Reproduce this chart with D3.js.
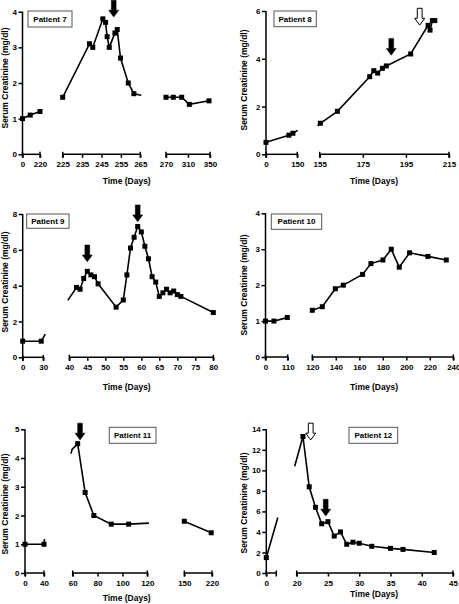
<!DOCTYPE html>
<html><head><meta charset="utf-8">
<script src="https://cdn.jsdelivr.net/npm/d3@7"></script>
<style>
body{margin:0;background:#fff}
svg{display:block}
text{font-family:"Liberation Sans",Arial,Helvetica,sans-serif;font-weight:bold;fill:#000}
</style>
</head><body>
<svg id="c" width="459" height="604"></svg>
<script>
// ---------------- DATA ----------------
const patientNames = ["Patient 7","Patient 8","Patient 9","Patient 10","Patient 11","Patient 12"];
const xTitle = "Time (Days)";
const yTitle = "Serum Creatinine (mg/dl)";

// Patient 7
const p7Days   = [0, 97, 220, 225, 238.8, 240.5, 245.7, 247.1, 247.9, 249, 251.9, 253.1, 254.8, 258.8, 261.7, 270, 283.3, 298.5, 312.4, 348.2];
const p7Values = [1.0, 1.1, 1.2, 1.6, 3.1, 3.0, 3.8, 3.7, 3.3, 3.0, 3.4, 3.5, 2.7, 2.0, 1.7, 1.6, 1.6, 1.6, 1.4, 1.5];
const p7Segments = [[0,220],[225,265],[270,350]];
const p7XTicks = [[0,220],[225,235,245,255,265],[270,310,350]];
const p7YTicks = [0,1,2,3,4];
const p7Arrows = [[251.3, 3.85, "solid"]];

// Patient 8
const p8Days   = [0, 109.7, 129, 152, 155.3, 163.2, 178.2, 180.1, 181.9, 184.1, 185.9, 197.2, 205.3, 206.2, 207.3, 208.4];
const p8Values = [0.5, 0.8, 0.88, 1.0, 1.3, 1.8, 3.25, 3.5, 3.4, 3.6, 3.7, 4.2, 5.4, 5.2, 5.6, 5.6];
const p8Segments = [[0,150],[155,215]];
const p8XTicks = [[0,150],[155,175,195,215]];
const p8YTicks = [0,2,4,6];
const p8Arrows = [[188.2, 4.15, "solid"],[201.4, 5.41, "hollow"]];

// Patient 9
const p9Days   = [0, 27, 36, 39, 42, 43, 44, 45, 46, 47, 48, 53, 55, 56, 57, 58, 59, 60, 61, 62, 63, 64, 65, 66, 67, 68, 69, 70, 71, 80];
const p9Values = [0.9, 0.9, 1.5, 3.0, 3.9, 3.8, 4.4, 4.8, 4.6, 4.5, 4.1, 2.8, 3.2, 4.6, 6.1, 6.7, 7.3, 7.0, 6.2, 5.5, 4.5, 4.2, 3.4, 3.6, 3.8, 3.6, 3.7, 3.5, 3.4, 2.5];
const p9Segments = [[0,30],[40,80]];
const p9XTicks = [[0,30],[40,45,50,55,60,65,70,75,80]];
const p9YTicks = [0,2,4,6,8];
const p9Arrows = [[45, 5.33, "solid"],[59, 7.57, "solid"]];

// Patient 10
const p10Days   = [0, 41.7, 108, 120, 128.5, 139.6, 146.4, 162.8, 169.9, 180.1, 187.2, 194, 202.8, 218.4, 234];
const p10Values = [1.0, 1.0, 1.1, 1.3, 1.4, 1.9, 2.0, 2.3, 2.6, 2.7, 3.0, 2.5, 2.9, 2.8, 2.7];
const p10Segments = [[0,110],[120,240]];
const p10XTicks = [[0,110],[120,140,160,180,200,220,240]];
const p10YTicks = [0,1,2,3,4];
const p10Arrows = [];

// Patient 11
const p11Days   = [0, 40, 59.5, 64, 70, 77, 91, 105, 150, 218];
const p11Values = [1.0, 1.0, 4.3, 4.5, 2.8, 2.0, 1.7, 1.7, 1.8, 1.4];
const p11Segments = [[0,40],[60,120],[150,220]];
const p11XTicks = [[0,40],[60,80,100,120],[150,220]];
const p11YTicks = [0,1,2,3,4,5];
const p11Arrows = [[65.9, 4.63, "solid"]];

// Patient 12
const p12Days   = [0, 5, 19.5, 21, 22, 23, 24, 25, 26, 27, 28, 29, 30, 32, 35, 37, 42];
const p12Values = [1.5, 10, 10, 13.3, 8.4, 6.4, 4.8, 5.0, 3.6, 4.0, 2.8, 3.0, 2.9, 2.6, 2.4, 2.3, 2.0];
const p12Segments = [[0,2],[20,45]];
const p12XTicks = [[0],[20,25,30,35,40,45]];
const p12YTicks = [0,2,4,6,8,10,12,14];
const p12Arrows = [[22.24, 12.96, "hollow"],[24.64, 5.55, "solid"]];

// ---------------- LAYOUT (positions / sizes) ----------------
const layouts = [
  {axisX:22.5, y0:154.3, yTop:11.7, segPx:[[22.5,40],[62.7,140.3],[166,210]], bleed:[0,1,2],
   titleX:126.7, titleY:184.3, yTitleX:5, yTitleY:78, legend:[28,11,44,16]},
  {axisX:266, y0:154.3, yTop:11, segPx:[[266,297.3],[319.7,449]], bleed:[0.4,2],
   titleX:374, titleY:184.3, yTitleX:244, yTitleY:80, legend:[274,11,42.3,15.7]},
  {axisX:22.7, y0:357.3, yTop:214, segPx:[[22.7,43.3],[69.3,213.3]], bleed:[2,1.5],
   titleX:126.7, titleY:390, yTitleX:5, yTitleY:282, legend:[26.7,214,42.3,14.3]},
  {axisX:265.5, y0:357, yTop:213.3, segPx:[[265.5,287.7],[312.3,453.3]], bleed:[0,2],
   titleX:374, titleY:390, yTitleX:244, yTitleY:285, legend:[271.3,214,50.4,15.3]},
  {axisX:25, y0:573, yTop:429.3, segPx:[[25,44],[72.7,147.3],[184.3,212]], bleed:[0.5,1.7,2],
   titleX:126.7, titleY:601, yTitleX:5, yTitleY:504, legend:[109.3,427.3,46.7,16]},
  {axisX:266.3, y0:573, yTop:429.3, segPx:[[266.3,276.3],[296.7,453]], bleed:[1.5,2],
   titleX:374, titleY:597, yTitleX:244, yTitleY:503, legend:[349,427.3,48.7,16]}
];

const panels = [
  {days:p7Days, values:p7Values, segs:p7Segments, xticks:p7XTicks, yticks:p7YTicks, arrows:p7Arrows},
  {days:p8Days, values:p8Values, segs:p8Segments, xticks:p8XTicks, yticks:p8YTicks, arrows:p8Arrows},
  {days:p9Days, values:p9Values, segs:p9Segments, xticks:p9XTicks, yticks:p9YTicks, arrows:p9Arrows},
  {days:p10Days, values:p10Values, segs:p10Segments, xticks:p10XTicks, yticks:p10YTicks, arrows:p10Arrows},
  {days:p11Days, values:p11Values, segs:p11Segments, xticks:p11XTicks, yticks:p11YTicks, arrows:p11Arrows},
  {days:p12Days, values:p12Values, segs:p12Segments, xticks:p12XTicks, yticks:p12YTicks, arrows:p12Arrows}
];

// ---------------- DRAW ----------------
const svg = d3.select("#c");
const AXW = 1.5, LW = 1.6, MS = 5, TICKFS = 8, TITLEFS = 8.5;

function styleAxis(sel){
  sel.select(".domain").remove();
  sel.selectAll(".tick line").attr("stroke","#000").attr("stroke-width",AXW);
  sel.selectAll(".tick text").attr("font-size",TICKFS).attr("fill","#000")
     .attr("font-family",'"Liberation Sans",Arial,sans-serif').attr("font-weight","bold");
}

// clip a polyline (ascending x) to the data interval [lo, hi]
function clipLine(pts, lo, hi){
  const out = [];
  for (let i = 0; i < pts.length - 1; i++){
    const [x0,y0] = pts[i], [x1,y1] = pts[i+1];
    const a = Math.max(x0, lo), b = Math.min(x1, hi);
    if (a > b) continue;
    const f = t => x1 === x0 ? y0 : y0 + (y1 - y0) * (t - x0) / (x1 - x0);
    if (!out.length) out.push([a, f(a)]);
    out.push([b, f(b)]);
  }
  return out;
}

panels.forEach((d, pi) => {
  const L = layouts[pi];
  const g = svg.append("g");
  const yMax = d.yticks[d.yticks.length-1];
  const y = d3.scaleLinear().domain([0, yMax]).range([L.y0, L.yTop]);

  // Y axis
  const ya = g.append("g").attr("transform",`translate(${L.axisX},0)`)
    .call(d3.axisLeft(y).tickValues(d.yticks).tickSize(4).tickSizeOuter(0).tickPadding(1.5).tickFormat(d3.format("d")));
  styleAxis(ya);
  ya.append("line").attr("x1",0).attr("x2",0).attr("y1",y(0)+0.75).attr("y2",y(yMax))
    .attr("stroke","#000").attr("stroke-width",AXW);

  const pts = d.days.map((t,k)=>[t, d.values[k]]);

  d.segs.forEach((dom, si) => {
    const px = L.segPx[si];
    const x = d3.scaleLinear().domain(dom).range(px);
    const xa = g.append("g").attr("transform",`translate(0,${L.y0})`)
      .call(d3.axisBottom(x).tickValues(d.xticks[si]).tickSize(3.5).tickSizeOuter(0).tickPadding(4).tickFormat(d3.format("d")));
    styleAxis(xa);
    xa.append("line").attr("x1",px[0]).attr("x2",px[1]).attr("y1",0).attr("y2",0)
      .attr("stroke","#000").attr("stroke-width",AXW);
    xa.selectAll("line.cap").data(px).join("line").attr("class","cap")
      .attr("x1",v=>v).attr("x2",v=>v).attr("y1",-2.5).attr("y2",3.5)
      .attr("stroke","#000").attr("stroke-width",AXW);

    // connecting line, clipped to the segment (plus a small bleed)
    const b = L.bleed[si];
    const seg = clipLine(pts, x.invert(px[0]-b), x.invert(px[1]+b));
    if (seg.length > 1) {
      g.append("path")
        .attr("d", d3.line().x(p=>x(p[0])).y(p=>y(p[1]))(seg))
        .attr("fill","none").attr("stroke","#000").attr("stroke-width",LW).attr("stroke-linejoin","miter");
    }

    // markers
    const inSeg = pts.filter(p => p[0] >= dom[0]-1e-9 && p[0] <= dom[1]+1e-9);
    g.selectAll(null).data(inSeg).join("rect")
      .attr("x",p=>x(p[0])-MS/2).attr("y",p=>y(p[1])-MS/2)
      .attr("width",MS).attr("height",MS).attr("fill","#000");

    // arrows
    d.arrows.filter(a => a[0] >= dom[0] && a[0] <= dom[1]).forEach(a => {
      const ax = x(a[0]), ay = y(a[1]);
      const hw = 5, sw = 2.4, hh = 6.8, sh = 10;
      const poly = [[ax,ay],[ax-hw,ay-hh],[ax-sw,ay-hh],[ax-sw,ay-hh-sh],[ax+sw,ay-hh-sh],[ax+sw,ay-hh],[ax+hw,ay-hh]];
      g.append("polygon").attr("points",poly.map(p=>p.join(",")).join(" "))
        .attr("fill", a[2]==="hollow" ? "#fff" : "#000")
        .attr("stroke","#000").attr("stroke-width", a[2]==="hollow" ? 1 : 0.5)
        .attr("stroke-linejoin","miter");
    });
  });

  // titles
  g.append("text").attr("x",L.titleX).attr("y",L.titleY).attr("text-anchor","middle")
    .attr("font-size",TITLEFS).text(xTitle);
  g.append("text").attr("transform",`translate(${L.yTitleX},${L.yTitleY}) rotate(-90)`)
    .attr("text-anchor","middle").attr("dy","0.35em").attr("font-size",TITLEFS).text(yTitle);

  // legend box
  const [lx,ly,lw,lh] = L.legend;
  g.append("rect").attr("x",lx).attr("y",ly).attr("width",lw).attr("height",lh)
    .attr("fill","#fff").attr("stroke","#555").attr("stroke-width",1);
  g.append("text").attr("x",lx+lw/2).attr("y",ly+lh/2).attr("dy","0.35em")
    .attr("text-anchor","middle").attr("font-size",8).text(patientNames[pi]);
});
</script>
</body></html>
